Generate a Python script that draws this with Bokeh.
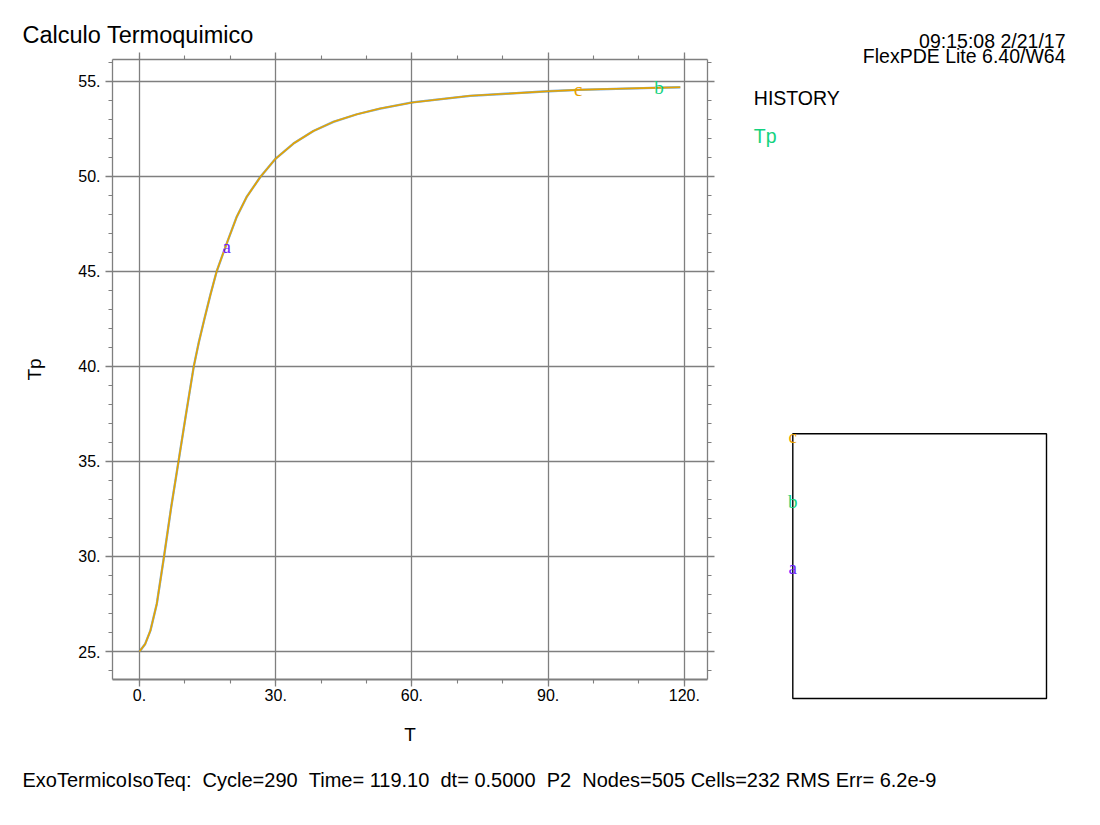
from bokeh.plotting import figure
from bokeh.layouts import column, row
from bokeh.models import (LinearAxis, FixedTicker, PrintfTickFormatter,
                          CustomJSTickFormatter, Range1d)
from bokeh.core.properties import value
from bokeh.embed import file_html
from bokeh.resources import INLINE

# history of Tp vs time at the three probe points (the curves coincide)
t = [0.0, 1.25, 2.4, 3.8, 5.4, 6.98, 8.59, 10.25, 11.95, 13.05, 14.3, 15.6,
     17.0, 18.5, 19.2, 21.4, 23.6, 26.6, 30.0, 33.9, 38.3, 42.7, 47.9, 53.0,
     60.1, 72.8, 90.0, 96.6, 105.0, 113.0, 119.1]
tp = [25.0, 25.4, 26.1, 27.5, 30.0, 32.6, 35.0, 37.5, 40.0, 41.25, 42.5,
      43.75, 45.0, 46.0, 46.46, 47.86, 48.91, 49.96, 50.93, 51.72, 52.38,
      52.86, 53.26, 53.56, 53.88, 54.23, 54.47, 54.54, 54.6, 54.65, 54.68]

series = ["a", "b", "c"]
colors = ["#6a1cff", "#14d27f", "#e8a200"]
widths = [2.3, 2.3, 1.6]
alphas = [0.4, 0.4, 1.0]
label_t = [19.2, 114.4, 96.6]
label_tp = [46.3, 54.65, 54.55]

x_ticks = [0, 30, 60, 90, 120]
x_minor = list(range(-10, 130, 10))
y_ticks = [25, 30, 35, 40, 45, 50, 55]
y_minor = list(range(23, 58))

status = ("ExoTermicoIsoTeq:  Cycle=290  Time= 119.10  dt= 0.5000  P2  "
          "Nodes=505 Cells=232 RMS Err= 6.2e-9")

font = "Liberation Sans"
grey = "#7f7f7f"

p = figure(width=740, height=750,
           min_border_left=112, min_border_right=33,
           min_border_top=59, min_border_bottom=71,
           x_range=Range1d(-5.95, 125.1), y_range=Range1d(23.53, 56.14),
           output_backend="svg", toolbar_location=None,
           x_axis_label="T", y_axis_label="Tp")
p.outline_line_color = None
p.title.text = "Calculo Termoquimico"
p.title.align = "left"
p.title.offset = -90
p.title.text_font = font
p.title.text_font_size = "23.5px"
p.title.text_font_style = "normal"
p.title.text_color = "black"
p.title.standoff = 9

for c, w, a in zip(colors, widths, alphas):
    p.line(t, tp, line_color=c, line_width=w, line_alpha=a)

p.text(x=label_t, y=label_tp, text=series, text_color=colors,
       text_font=value("Liberation Serif"), text_font_size="19px",
       text_align="center", text_baseline="middle")

xt = FixedTicker(ticks=x_ticks, minor_ticks=x_minor)
yt = FixedTicker(ticks=y_ticks, minor_ticks=y_minor)

p.add_layout(LinearAxis(), "right")
p.add_layout(LinearAxis(), "above")

for ax in p.xaxis:
    ax.ticker = xt
for ax in p.yaxis:
    ax.ticker = yt

for ax in p.axis:
    ax.axis_line_color = grey
    ax.axis_line_width = 1.3
    ax.major_tick_line_color = grey
    ax.minor_tick_line_color = grey
    ax.major_tick_line_width = 1.3
    ax.minor_tick_line_width = 1.1
    ax.major_tick_in = 0
    ax.major_tick_out = 7
    ax.minor_tick_in = 0
    ax.minor_tick_out = 4
    ax.major_label_text_font = font
    ax.major_label_text_font_size = "16px"
    ax.major_label_text_color = "black"
    ax.axis_label_text_font = font
    ax.axis_label_text_font_size = "19px"
    ax.axis_label_text_font_style = "normal"
    ax.axis_label_text_color = "black"

p.below[0].formatter = PrintfTickFormatter(format="%d.")
p.left[0].formatter = PrintfTickFormatter(format="%d.")
for ax in (p.right[0], p.above[0]):
    ax.formatter = CustomJSTickFormatter(code="return ''")
    ax.major_label_standoff = 0
    ax.major_label_text_font_size = "1px"
p.below[0].axis_line_width = 2.2
p.below[0].major_label_standoff = 2
p.below[0].axis_label_standoff = 20
p.left[0].major_label_standoff = 5
p.left[0].axis_label_standoff = 30

p.xgrid.ticker = xt
p.ygrid.ticker = yt
p.grid.grid_line_color = grey
p.grid.grid_line_width = 1.3

# right-hand panel, drawn in page pixels
side = figure(width=360, height=750, x_range=Range1d(740, 1100),
              y_range=Range1d(750, 0), min_border=0,
              output_backend="svg", toolbar_location=None)
side.frame_align = False
side.axis.visible = False
side.grid.visible = False
side.outline_line_color = None

side.text(x=[1065, 1065], y=[40.5, 55.5],
          text=["09:15:08 2/21/17", "FlexPDE Lite 6.40/W64"],
          text_font=value(font), text_font_size="19.5px", text_color="black",
          text_align="right", text_baseline="alphabetic")
side.text(x=[753.3, 753.3], y=[97.3, 135], text=["HISTORY", "Tp"],
          text_font=value(font), text_font_size="19.5px",
          text_color=["black", colors[1]], text_baseline="alphabetic")

# probe locations
probe_x = [792.3, 792.3, 792.3]
probe_y = [567, 501, 436]
side.quad(left=[792.3], right=[1046], top=[433.3], bottom=[698],
          fill_alpha=0, line_color="black", line_width=1.4)
side.text(x=probe_x, y=probe_y, text=series, text_color=colors,
          text_font=value("Liberation Serif"), text_font_size="19px",
          text_align="center", text_baseline="middle")

# status line
foot = figure(width=1100, height=75, x_range=Range1d(0, 1100),
              y_range=Range1d(825, 750), min_border=0,
              output_backend="svg", toolbar_location=None)
foot.frame_align = False
foot.axis.visible = False
foot.grid.visible = False
foot.outline_line_color = None
foot.text(x=[22], y=[779], text=[status.replace("  ", " \u00a0")],
          text_font=value(font), text_font_size="20px", text_color="black",
          text_baseline="alphabetic")

layout = column(row(p, side, spacing=0), foot, spacing=0)
open("out.html", "w").write(file_html(layout, INLINE))
